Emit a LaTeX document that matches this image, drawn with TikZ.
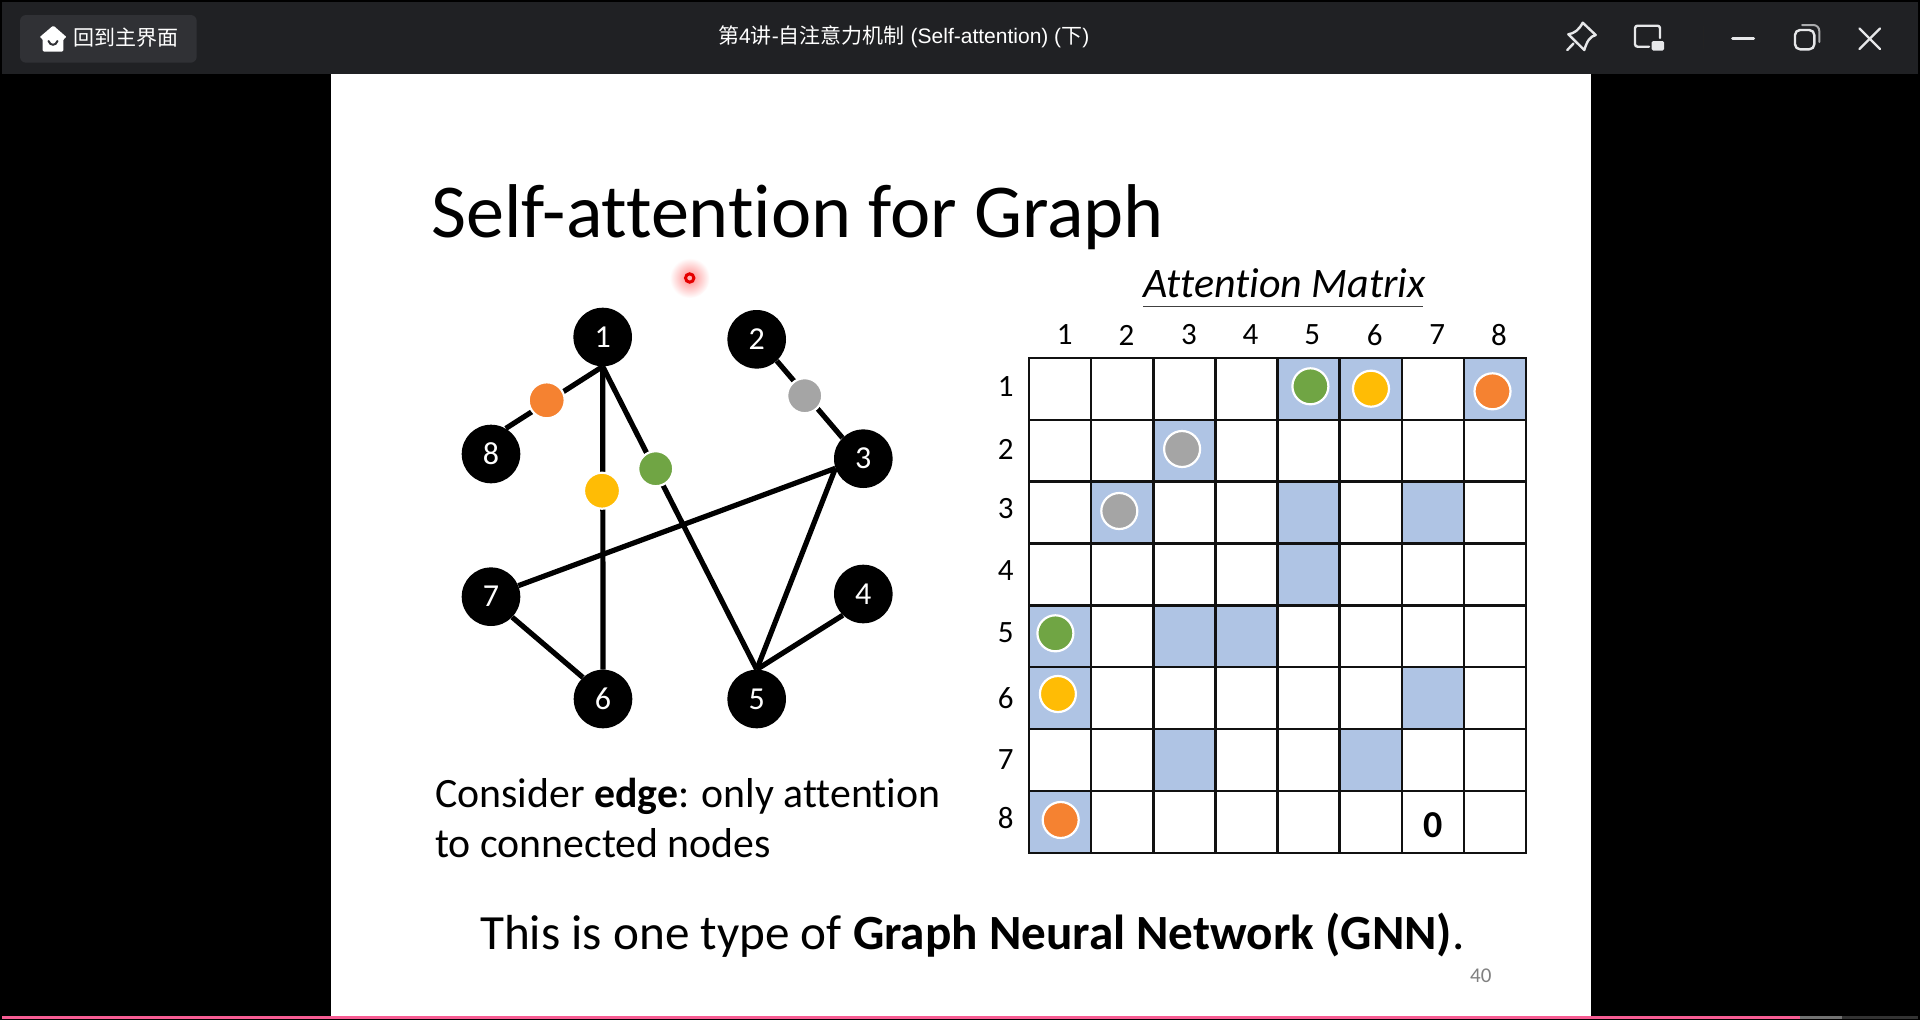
\documentclass[tikz,border=0pt]{standalone}
\usepackage{fontspec}
\setmainfont[Ligatures=NoCommon]{Carlito}
\newfontfamily\cjk{Noto Sans CJK SC}
\newfontfamily\arl{Liberation Sans}
\definecolor{barbg}{HTML}{202124}
\definecolor{btnbg}{HTML}{303135}
\definecolor{icon}{HTML}{E6E7E9}
\definecolor{cellblue}{HTML}{AFC4E4}
\definecolor{gridc}{HTML}{111111}
\definecolor{dgreen}{HTML}{70A544}
\definecolor{dyellow}{HTML}{FFBC05}
\definecolor{dorange}{HTML}{F58231}
\definecolor{dgray}{HTML}{A5A5A5}
\definecolor{pinkbar}{HTML}{F85C93}
\newcommand{\fs}[1]{\fontsize{#1}{#1}\selectfont}
\tikzset{
  graphnode/.style={circle,fill=black,text=white,minimum size=58.6pt,inner sep=0pt,font=\fs{32}},
  graphedge/.style={line width=5.2pt,black},
  dot/.style={circle,draw=white,line width=2.2pt,minimum size=#1,inner sep=0pt},
  dot/.default=35pt,
  axislabel/.style={inner sep=0pt,font=\fs{31},text=black},
  base left/.style={anchor=base west,inner sep=0pt,text=black},
  iconline/.style={draw=icon,line width=2.4pt,line cap=round,line join=round}
}
\begin{document}
\begin{tikzpicture}[x=1pt,y=-1pt]
\useasboundingbox (0,0) rectangle (1920,1020);
\fill[black] (0,0) rectangle (1920,1020);
% window chrome
\fill[barbg] (2,2) rectangle (1918,74);
\fill[btnbg,rounded corners=6pt] (20,15) rectangle (196.7,62.7);
% home icon
\fill[white,rounded corners=1.5pt] (53.3,25.5) -- (67,37.5) -- (63.4,38.5) -- (63.4,51.7) -- (42.7,51.7) -- (42.7,38.5) -- (39.2,37.5) -- cycle;
\draw[btnbg,line width=2pt,line cap=round] (48.5,41) .. controls (50,46) and (56,46) .. (57.5,41);
\node[anchor=west,inner sep=0pt,text=white,font=\cjk\fs{21}] (homelabel) at (73,37.5) {回到主界面};
\node[anchor=west,inner sep=0pt,text=white,font=\fs{21}] (wintitle) at (718,37) {{\cjk 第}{\arl 4}{\cjk 讲}{\arl -}{\cjk 自注意力机制}{\arl\ (Self-attention) (}{\cjk 下}{\arl )}};
% icons
\draw[iconline] (1582.7,22.7) -- (1595.7,35) .. controls (1590,36.5) and (1587,41) .. (1584.3,50) -- (1568.3,34.3) .. controls (1574,33.5) and (1579,30) .. cycle;
\draw[iconline] (1573.5,43.5) -- (1567.3,50);
\draw[iconline,rounded corners=2.5pt] (1660,38) -- (1660,25.7) -- (1635,25.7) -- (1635,46.7) -- (1649,46.7);
\fill[icon,rounded corners=1.5pt] (1651.7,41) rectangle (1664,50.7);
\draw[line width=1pt,draw=black!70!barbg!90!white] (1703.3,25.7) -- (1703.3,49.3);
\draw[iconline,line width=3pt] (1732.5,38) -- (1753.5,38);
\draw[iconline,rounded corners=5pt] (1795,30) rectangle (1814.3,49.3);
\draw[draw=icon!70!barbg,line width=2pt,line cap=round,rounded corners=6pt] (1802,25) -- (1819.3,25) -- (1819.3,42);
\draw[iconline] (1859.5,28.5) -- (1880,49);
\draw[iconline] (1880,28.5) -- (1859.5,49);
% progress bar
\fill[pinkbar] (2,1016) rectangle (1800,1019);
\fill[black!55!white] (1800,1016) rectangle (1842,1019);
\fill[black!80!white] (1842,1016) rectangle (1918,1019);
% slide
\fill[white] (331,74) rectangle (1591,1016);
\node[base left,font=\fs{76.2}] (title) at (431,237) {Self-attention for Graph};
% pointer
\shade[inner color=red!45!white,outer color=white] (689.7,278) circle (20pt);
\draw[red!90!black,fill=red!30!white,line width=3pt] (689.7,278) circle (4.2pt);
% graph
\node[graphnode] (n1) at (602.7,337) {1};
\node[graphnode] (n2) at (756.7,339.3) {2};
\node[graphnode] (n3) at (863.3,458.7) {3};
\node[graphnode] (n4) at (863.3,594) {4};
\node[graphnode] (n5) at (756.7,699) {5};
\node[graphnode] (n6) at (603,699) {6};
\node[graphnode] (n7) at (491,596.7) {7};
\node[graphnode] (n8) at (491,454) {8};
\draw[graphedge] (n1.south) -- (n8.60);
\draw[graphedge] (n1.south) -- (n6.north);
\draw[graphedge] (n1.south) -- (n5.north);
\draw[graphedge] (n2.-47) -- (n3.135);
\draw[graphedge] (n3.199) -- (n7.22);
\draw[graphedge] (n3.199) -- (n5.north);
\draw[graphedge] (n4.226) -- (n5.north);
\draw[graphedge] (n7.-44) -- (n6.133);
\node[dot=36pt,fill=dorange] (eo) at (546.7,400.3) {};
\node[dot=35pt,fill=dgray] (eg) at (804.7,395.7) {};
\node[dot=35pt,fill=dgreen] (ee) at (655.7,468.7) {};
\node[dot=36pt,fill=dyellow] (ey) at (602,490.7) {};
% text
\node[base left,font=\fs{41.8}] (cons1) at (435,807) {Consider \textbf{edge}: only attention};
\node[base left,font=\fs{41.8}] (cons2) at (435,857) {to connected nodes};
\node[base left,font=\fs{49.2}] (gnn) at (480,949) {This is one type of \textbf{Graph Neural Network (GNN)}.};
\node[base left,font=\fs{21},text=black!50] (pagenum) at (1470,982) {40};
\node[base left,font=\itshape\fs{42}] (amat) at (1143.6,297) {Attention Matrix};
\draw[black!75,line width=1.5pt] (1143.2,306.7) -- (1423.4,306.7);
% matrix cells
\foreach \r/\c in {1/5,1/6,1/8,2/3,3/2,3/5,3/7,4/5,5/1,5/3,5/4,6/1,6/7,7/3,7/6,8/1}{
  \pgfmathsetmacro{\xa}{1029.3+62.05*(\c-1)}
  \pgfmathsetmacro{\ya}{357.7+61.93*(\r-1)}
  \fill[cellblue] (\xa,\ya) rectangle (\xa+62.05,\ya+61.93);
}
\foreach \i in {0,...,8}{
  \pgfmathsetmacro{\xa}{1029.3+62.05*\i}
  \pgfmathsetmacro{\ya}{357.7+61.93*\i}
  \draw[gridc,line width=2.2pt,line cap=rect] (\xa,357.7) -- (\xa,853.2);
  \draw[gridc,line width=2.2pt,line cap=rect] (1029.3,\ya) -- (1525.7,\ya);
}
% axis labels
\foreach \t/\x in {1/1064.6,2/1126.4,3/1188.9,4/1250.4,5/1312.1,6/1374.6,7/1437.1,8/1498.9}{
  \node[axislabel] (col\t) at (\x,335) {\t};
}
\foreach \t/\y in {1/386.7,2/449.3,3/508.3,4/571,5/632.3,6/698.3,7/760,8/818.3}{
  \node[axislabel] (row\t) at (1005.7,\y) {\t};
}
\node[inner sep=0pt,font=\bfseries\fs{38},text=black] (zero) at (1433.6,825) {0};
% matrix dots
\node[dot=36pt,fill=dgreen] (m15) at (1310.4,386.3) {};
\node[dot=36pt,fill=dyellow] (m16) at (1371,388.7) {};
\node[dot=36pt,fill=dorange] (m18) at (1492.5,391.3) {};
\node[dot=36pt,fill=dgray] (m23) at (1182.1,449) {};
\node[dot=36pt,fill=dgray] (m32) at (1119.3,511) {};
\node[dot=36pt,fill=dgreen] (m51) at (1055.4,633.3) {};
\node[dot=36pt,fill=dyellow] (m61) at (1057.9,694) {};
\node[dot=36pt,fill=dorange] (m81) at (1060.7,820) {};
\end{tikzpicture}
\end{document}
